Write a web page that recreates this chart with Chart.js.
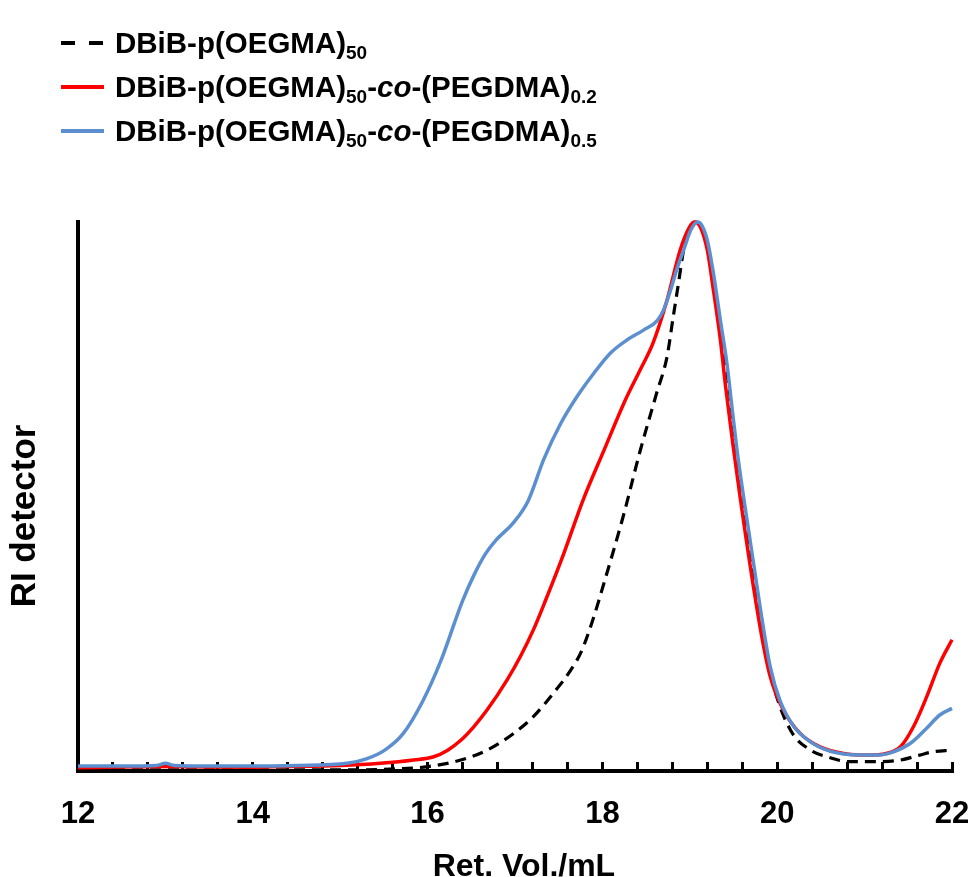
<!DOCTYPE html>
<html>
<head>
<meta charset="utf-8">
<title>RI detector – Ret. Vol./mL</title>
<script src="https://cdn.jsdelivr.net/npm/chart.js@4.4.1/dist/chart.umd.min.js"></script>
<style>
  html, body { margin: 0; padding: 0; background: #fff; }
  #wrap { position: relative; width: 973px; height: 877px; }
  #chart { position: absolute; left: 0; top: 0; }
  .legend { position: absolute; left: 0; top: 0; width: 700px; height: 160px;
            font-family: 'Liberation Sans', Arial, sans-serif; font-weight: bold;
            font-size: 29.5px; color: #000; }
  .row { position: absolute; left: 0; height: 34px; line-height: 34px; white-space: nowrap; }
  .row svg { position: absolute; left: 58px; top: 0; }
  .row .label { position: absolute; left: 115px; top: 0; }
  .row sub { font-size: 19px; vertical-align: -6px; line-height: 0; }
  .row i { font-style: italic; }
</style>
</head>
<body>
<div id="wrap">
  <canvas id="chart" width="973" height="877"></canvas>
  <div class="legend">
    <div class="row" style="top:26px">
      <svg width="50" height="34"><line x1="3" y1="17" x2="46" y2="17" stroke="#000" stroke-width="4" stroke-dasharray="14 14"/></svg>
      <span class="label">DBiB-p(OEGMA)<sub>50</sub></span>
    </div>
    <div class="row" style="top:70px">
      <svg width="50" height="34"><line x1="3" y1="17" x2="46" y2="17" stroke="#ff0000" stroke-width="4"/></svg>
      <span class="label">DBiB-p(OEGMA)<sub>50</sub>-<i>co</i>-(PEGDMA)<sub>0.2</sub></span>
    </div>
    <div class="row" style="top:114px">
      <svg width="50" height="34"><line x1="3" y1="17" x2="46" y2="17" stroke="#5b8fd0" stroke-width="4"/></svg>
      <span class="label">DBiB-p(OEGMA)<sub>50</sub>-<i>co</i>-(PEGDMA)<sub>0.5</sub></span>
    </div>
  </div>
</div>
<script>
// Retention volume (mL) and normalised RI response for each polymer
const oegmaVol = [12.0, 13.0, 14.0, 15.0, 15.5, 16.0, 16.38, 16.68, 16.99, 17.21, 17.44, 17.63, 17.76,
                  17.89, 18.01, 18.24, 18.43, 18.62, 18.74, 18.81, 18.87, 18.93, 18.99, 19.07, 19.12, 19.20,
                  19.27, 19.35, 19.43, 19.60, 19.81, 19.95, 20.15, 20.38, 20.57, 20.83, 21.14, 21.41,
                  21.63, 21.78, 22.0];
const oegmaRI  = [0.002, 0.002, 0.002, 0.002, 0.003, 0.008, 0.020, 0.038, 0.069, 0.099, 0.142, 0.182, 0.218,
                  0.275, 0.338, 0.465, 0.582, 0.688, 0.755, 0.827, 0.888, 0.949, 0.980, 1.000, 0.995, 0.960,
                  0.890, 0.800, 0.720, 0.490, 0.270, 0.160, 0.075, 0.038, 0.026, 0.017, 0.017, 0.020,
                  0.029, 0.035, 0.038];

const pegdma02Vol = [12.0, 13.0, 14.0, 14.32, 15.0, 15.46, 15.84, 16.07, 16.23, 16.38, 16.53, 16.68, 16.91,
                     17.06, 17.21, 17.35, 17.56, 17.78, 18.02, 18.26, 18.43, 18.58, 18.74, 18.89,
                     18.99, 19.05, 19.12, 19.20, 19.27, 19.35, 19.41, 19.58, 19.81, 19.92, 20.07, 20.26,
                     20.49, 20.76, 21.03, 21.25, 21.41, 21.56, 21.71, 21.86, 22.0];
const pegdma02RI  = [0.006, 0.008, 0.007, 0.008, 0.010, 0.014, 0.020, 0.026, 0.038, 0.056, 0.081, 0.111, 0.166,
                     0.208, 0.257, 0.311, 0.397, 0.494, 0.585, 0.675, 0.730, 0.780, 0.858, 0.949,
                     0.989, 1.000, 0.991, 0.949, 0.876, 0.785, 0.700, 0.494, 0.257, 0.172, 0.111, 0.069,
                     0.044, 0.032, 0.029, 0.032, 0.044, 0.081, 0.135, 0.196, 0.239];

const pegdma05Vol = [12.0, 12.5, 12.9, 13.0, 13.1, 13.5, 14.0, 14.5, 15.08, 15.30, 15.51, 15.72,
                     15.95, 16.15, 16.40, 16.54, 16.66, 16.78, 16.98, 17.15, 17.33, 17.52, 17.71,
                     17.90, 18.09, 18.28, 18.47, 18.63, 18.70, 18.78, 18.85, 18.93, 19.01, 19.09, 19.12,
                     19.20, 19.27, 19.35, 19.43, 19.47, 19.54, 19.62, 19.81, 19.92, 20.03, 20.19, 20.38,
                     20.57, 20.76, 20.95, 21.14, 21.33, 21.52, 21.71, 21.86, 22.0];
const pegdma05RI  = [0.009, 0.009, 0.010, 0.014, 0.010, 0.009, 0.009, 0.010, 0.014, 0.022, 0.038, 0.068,
                     0.129, 0.200, 0.310, 0.360, 0.395, 0.420, 0.452, 0.492, 0.568, 0.632, 0.682,
                     0.724, 0.761, 0.785, 0.803, 0.821, 0.840, 0.876, 0.913, 0.949, 0.985, 1.000, 0.998,
                     0.967, 0.907, 0.821, 0.736, 0.680, 0.585, 0.494, 0.293, 0.190, 0.129, 0.081, 0.053,
                     0.038, 0.031, 0.029, 0.029, 0.035, 0.050, 0.078, 0.102, 0.114];

// Labelled retention volumes (minor ticks every 0.4 mL in between)
const xTickLabels = [12, 14, 16, 18, 20, 22];

const toPoints = (xs, ys) => xs.map((x, i) => ({ x: x, y: ys[i] }));
const FONT = "'Liberation Sans', Arial, sans-serif";

new Chart(document.getElementById('chart'), {
  type: 'line',
  data: {
    datasets: [
      {
        label: 'DBiB-p(OEGMA)50-co-(PEGDMA)0.5',
        data: toPoints(pegdma05Vol, pegdma05RI),
        borderColor: '#5b8fd0',
        borderWidth: 3.5,
        order: 1
      },
      {
        label: 'DBiB-p(OEGMA)50-co-(PEGDMA)0.2',
        data: toPoints(pegdma02Vol, pegdma02RI),
        borderColor: '#ff0000',
        borderWidth: 3.5,
        order: 2
      },
      {
        label: 'DBiB-p(OEGMA)50',
        data: toPoints(oegmaVol, oegmaRI),
        borderColor: '#000000',
        borderWidth: 3.2,
        borderDash: [11, 7],
        order: 3
      }
    ]
  },
  options: {
    responsive: false,
    animation: false,
    elements: {
      point: { radius: 0 },
      line: { cubicInterpolationMode: 'monotone', fill: false }
    },
    datasets: { line: { clip: false } },
    layout: { padding: { top: 222, right: 21, bottom: 0, left: 0 } },
    plugins: { legend: { display: false }, tooltip: { enabled: false } },
    scales: {
      x: {
        type: 'linear',
        min: 12,
        max: 22,
        afterFit: (s) => { s.height = 106; s.paddingLeft = 0; s.paddingRight = 0; },
        border: { display: true, color: '#000', width: 4 },
        grid: { display: true, drawOnChartArea: false, drawTicks: true,
                tickLength: -9, tickWidth: 3, tickColor: '#000' },
        ticks: {
          stepSize: 0.4,
          autoSkip: false,
          maxRotation: 0,
          padding: 34,
          color: '#000',
          font: { family: FONT, size: 31, weight: 'bold' },
          callback: (v) => xTickLabels.includes(Math.round(v * 10) / 10) ? String(Math.round(v)) : ''
        },
        title: {
          display: true,
          text: '  Ret. Vol./mL',
          color: '#000',
          font: { family: FONT, size: 32, weight: 'bold', lineHeight: 1 },
          padding: { top: 0, bottom: -6 }
        }
      },
      y: {
        type: 'linear',
        min: 0,
        max: 1,
        afterFit: (s) => { s.width = 78; },
        border: { display: true, color: '#000', width: 4 },
        grid: { display: false },
        ticks: { display: false },
        title: {
          display: true,
          text: 'RI detector    ',
          color: '#000',
          font: { family: FONT, size: 35, weight: 'bold', lineHeight: 1 },
          padding: { top: 8, bottom: 0 }
        }
      }
    }
  }
});
</script>
</body>
</html>
